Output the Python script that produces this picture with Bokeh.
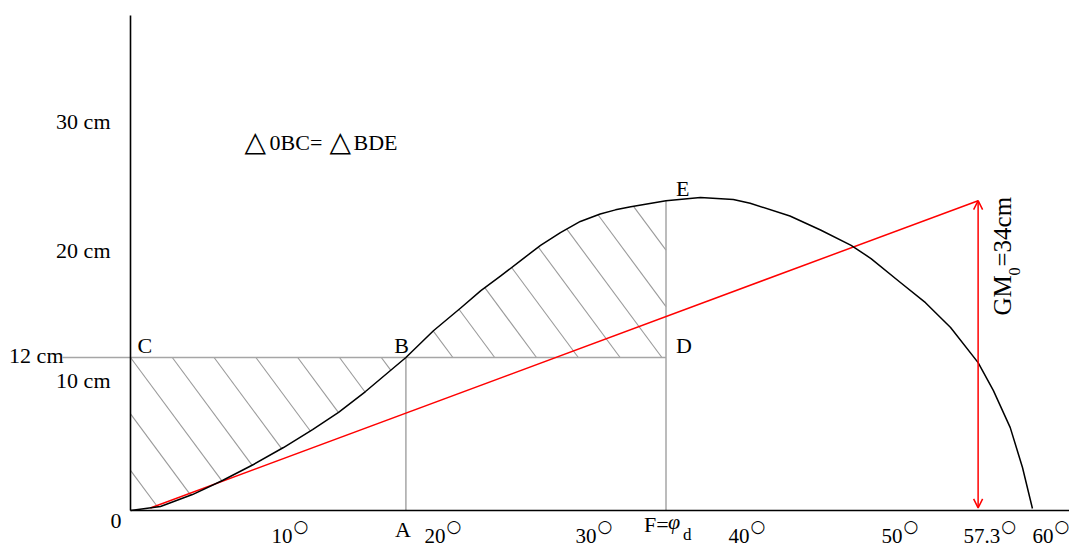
import numpy as np
from bokeh.plotting import figure
from bokeh.models import Range1d, Arrow, OpenHead
from bokeh.core.properties import value
from bokeh.embed import file_html
from bokeh.resources import INLINE

# ---- data -------------------------------------------------------------
# static stability curve: heel angle (deg) vs righting lever (cm)
heel_deg = [0, 1.96, 4.05, 6.01, 8.04, 10.0, 11.9, 13.6, 15.36, 18.0, 19.8,
            21.6, 22.9, 24.2, 25.5, 26.8, 28.1, 29.4, 30.7, 31.7, 32.7, 35.0,
            37.25, 39.4, 40.5, 43.1, 45.1, 47.1, 48.4, 50.3, 51.96, 53.6,
            55.4, 56.4, 57.5, 58.3, 58.95]
lever_cm = [0, 0.31, 1.25, 2.35, 3.61, 4.94, 6.35, 7.69, 9.33, 12.0, 14.1,
            15.9, 17.25, 18.4, 19.6, 20.8, 21.8, 22.67, 23.25, 23.58, 23.82, 24.3,
            24.55, 24.4, 24.1, 23.1, 22.0, 20.8, 19.76, 17.9, 16.3, 14.35,
            11.6, 9.4, 6.5, 3.37, 0.16]

phi_B = 18.0          # point A / B
phi_d = 35.0          # point F (dynamic heel angle)
lever_B = 12.0        # heeling lever, 12 cm

# GM0 line and its vertical measure at one radian
gm_line_deg = [1.3, 55.4]
gm_line_cm = [0.2, 24.3]

deg_ticks = [10, 20, 30, 40, 50, 57.3, 60]
deg_labels = ["10", "20", "30", "40", "50", "57.3", "60"]
cm_ticks = [10, 20, 30]
cm_labels = ["10 cm", "20 cm", "30 cm"]

# ---- scales -----------------------------------------------------------
W, H = 1069, 547
ORIGIN_X, ORIGIN_Y = 130, 510
PX_DEG, PX_CM = 15.3, 12.75
x_rng = Range1d(-ORIGIN_X / PX_DEG, (W - ORIGIN_X) / PX_DEG)
y_rng = Range1d(-(H - ORIGIN_Y) / PX_CM, ORIGIN_Y / PX_CM)

SERIF = "Liberation Serif"
GRAY = "#a6a6a6"

p = figure(width=W, height=H, x_range=x_rng, y_range=y_rng,
           output_backend="svg", toolbar_location=None,
           x_axis_location=None, y_axis_location=None,
           min_border=0, outline_line_color=None,
           background_fill_color="white", border_fill_color="white")
p.grid.visible = False


def label(x, y, text, size=22, align="left", baseline="middle",
          dx=0, dy=0, angle=0.0, style="normal", font=SERIF, color="black"):
    p.text(x=[x], y=[y], text=[text], text_font=value(font),
           text_font_size=f"{size}px", text_align=align,
           text_baseline=baseline, x_offset=dx, y_offset=dy, angle=angle,
           text_font_style=style, text_color=color)


# ---- hatching of the two equal areas ----------------------------------
HATCH_STEP = 41.8 / PX_DEG                 # spacing along a horizontal
HATCH_SLOPE = -1.35 * PX_DEG / PX_CM       # cm per deg
HATCH_PHASE_R = 47.0 / PX_DEG

gx_all = np.linspace(0, heel_deg[-1], 8000)
gy_all = np.interp(gx_all, heel_deg, lever_cm)

hx0, hy0, hx1, hy1 = [], [], [], []

# area 0-B-C : between the curve, the axis and the 12 cm level
for n in range(-8, 12):
    xn = n * HATCH_STEP
    if xn >= phi_B:
        break
    if xn >= 0:
        sx, sy = xn, lever_B
    else:
        sx, sy = 0.0, lever_B - HATCH_SLOPE * xn
        if sy <= 0:
            continue
    m = (gx_all >= sx) & (gx_all <= phi_B)
    gx, gy = gx_all[m], gy_all[m]
    d = lever_B + HATCH_SLOPE * (gx - xn) - gy
    below = np.where(d <= 0)[0]
    if len(below) == 0:
        continue
    ex = gx[below[0]]
    hx0.append(sx); hy0.append(sy)
    hx1.append(ex); hy1.append(lever_B + HATCH_SLOPE * (ex - xn))

# area B-D-E : between the 12 cm level, the curve and F-E
E_cm = float(np.interp(phi_d, heel_deg, lever_cm))
for k in range(0, 14):
    xn = phi_B + HATCH_PHASE_R + k * HATCH_STEP
    if xn <= phi_d:
        ex, ey = xn, lever_B
    else:
        ex, ey = phi_d, lever_B + HATCH_SLOPE * (phi_d - xn)
        if ey >= E_cm:
            break
    m = (gx_all >= phi_B) & (gx_all <= ex)
    gx, gy = gx_all[m], gy_all[m]
    d = lever_B + HATCH_SLOPE * (gx - xn) - gy
    above = np.where(d >= 0)[0]
    if len(above) == 0:
        continue
    sx = gx[above.max()]
    hx0.append(sx); hy0.append(lever_B + HATCH_SLOPE * (sx - xn))
    hx1.append(ex); hy1.append(ey)

p.segment(x0=hx0, y0=hy0, x1=hx1, y1=hy1, line_color="#9a9a9a", line_width=1.1)

# ---- construction lines -----------------------------------------------
p.line([-68 / PX_DEG, phi_d], [lever_B, lever_B], line_color=GRAY, line_width=1.5)
p.line([phi_B, phi_B], [0, lever_B], line_color=GRAY, line_width=1.5)
p.line([phi_d, phi_d], [0, E_cm], line_color=GRAY, line_width=1.5)

# ---- axes -------------------------------------------------------------
p.line([0, 0], [0, (ORIGIN_Y - 15) / PX_CM], line_color="black", line_width=1.6)
p.line([0, (W - ORIGIN_X) / PX_DEG], [0, 0], line_color="black", line_width=1.6)

# ---- GM0 line and measure ---------------------------------------------
p.line(gm_line_deg, gm_line_cm, line_color="red", line_width=1.5)
p.add_layout(Arrow(x_start=gm_line_deg[1], y_start=gm_line_cm[0],
                   x_end=gm_line_deg[1], y_end=gm_line_cm[1],
                   line_color="red", line_width=1.5,
                   start=OpenHead(size=9, line_color="red", line_width=1.5),
                   end=OpenHead(size=9, line_color="red", line_width=1.5)))

# ---- stability curve ---------------------------------------------------
p.line(heel_deg, lever_cm, line_color="black", line_width=1.5,
       line_join="round")

# ---- tick labels -------------------------------------------------------
shift_px = [9, 9, 7, 7, 7, -7, 5]
p.text(x=deg_ticks, y=[0] * len(deg_ticks), text=deg_labels,
       text_font=value(SERIF), text_font_size="21px", text_align="right",
       text_baseline="middle", x_offset=shift_px, y_offset=25,
       text_color="black")
p.text(x=deg_ticks, y=[0] * len(deg_ticks), text=["○"] * len(deg_ticks),
       text_font=value("DejaVu Sans"), text_font_size="17px", text_align="left",
       text_baseline="middle", x_offset=[s + 1 for s in shift_px], y_offset=15,
       text_color="black")

p.text(x=[0] * len(cm_ticks), y=cm_ticks, text=cm_labels,
       text_font=value(SERIF), text_font_size="22px", text_align="right",
       text_baseline="middle", x_offset=-20, y_offset=[-3, -5, -7],
       text_color="black")
label(0, lever_B, "12 cm", align="right", dx=-67, dy=-2)
label(0, 0, "0", align="right", dx=-9, dy=10)

# ---- point letters -----------------------------------------------------
label(0, lever_B, "C", dx=7, dy=-12)
label(phi_B, lever_B, "B", align="right", dx=3, dy=-12)
label(phi_d, lever_B, "D", dx=10, dy=-12)
label(phi_d, E_cm, "E", dx=10, dy=-12)
label(phi_B, 0, "A", align="center", dx=-3, dy=19)
label(phi_d, 0, "F=", dx=-22, dy=14)
label(phi_d, 0, "φ", dx=2, dy=11, style="italic")
label(phi_d, 0, "d", size=17, dx=17, dy=24)

# ---- area equality note ------------------------------------------------
note_x, note_y = 7.52, 28.24
label(note_x, note_y, "△", size=28, font="DejaVu Sans", dx=-1, dy=-9)
label(note_x, note_y, "0BC=", dx=24, dy=-8)
label(note_x, note_y, "△", size=28, font="DejaVu Sans", dx=84, dy=-9)
label(note_x, note_y, "BDE", dx=108, dy=-8)

# ---- GM0 = 34 cm (rotated) ---------------------------------------------
gx_txt, gy_txt = gm_line_deg[1], (ORIGIN_Y - 315) / PX_CM
label(gx_txt, gy_txt, "GM", size=25, dx=24, angle=np.pi / 2)
label(gx_txt, gy_txt, "0", size=16, dx=36, dy=-40, angle=np.pi / 2)
label(gx_txt, gy_txt, "=34cm", size=25, dx=24, dy=-49, angle=np.pi / 2)

open("out.html", "w").write(file_html(p, INLINE))
